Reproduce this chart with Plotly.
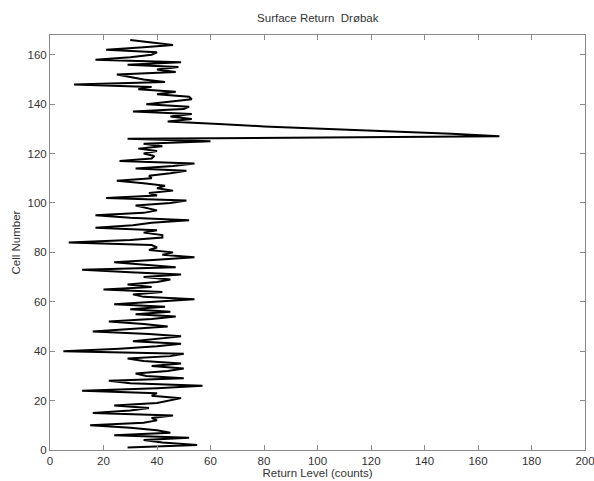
import plotly.graph_objects as go

cells = list(range(1, 167))
return_level = [
    29, 55, 42, 35, 52, 24, 45, 40, 30, 15,
    35, 40, 38, 46, 16, 30, 37, 24, 40, 45,
    49, 38, 40, 12, 40, 57, 30, 22, 50, 36,
    32, 44, 50, 38, 49, 35, 29, 45, 50, 5,
    26, 40, 49, 31, 40, 49, 37, 16, 30, 44,
    35, 22, 38, 47, 32, 45, 30, 43, 24, 40,
    54, 35, 31, 42, 20, 38, 29, 40, 45, 35,
    49, 30, 12, 47, 35, 24, 40, 54, 42, 46,
    37, 40, 38, 7, 30, 42, 42, 35, 40, 17,
    31, 38, 52, 30, 17, 35, 40, 36, 32, 45,
    51, 21, 40, 37, 46, 40, 43, 35, 25, 38,
    37, 45, 51, 32, 46, 54, 26, 38, 39, 35,
    40, 33, 42, 35, 60, 29, 168, 150, 125, 100,
    80, 63, 44, 53, 45, 53, 31, 50, 52, 36,
    45, 53, 52, 40, 47, 33, 38, 9, 43, 35,
    30, 25, 47, 40, 48, 29, 49, 17, 30, 38,
    40, 21, 35, 46, 38, 30,
]
x_ticks = [0, 20, 40, 60, 80, 100, 120, 140, 160, 180, 200]
y_ticks = [0, 20, 40, 60, 80, 100, 120, 140, 160]

fig = go.Figure(go.Scatter(
    x=return_level, y=cells, mode="lines",
    line=dict(color="black", width=2), showlegend=False,
))

font = dict(family="Liberation Sans, Arial", size=11.5, color="#333")
axis_common = dict(
    showgrid=False, zeroline=False, showline=True, mirror="ticks",
    linecolor="#8a8a8a", linewidth=1, ticks="inside", ticklen=5,
    tickcolor="#8a8a8a", tickfont=font, automargin=False,
    ticklabeloverflow="allow",
)
fig.update_layout(
    width=594, height=481,
    margin=dict(l=50, r=9, t=35, b=31),
    paper_bgcolor="white", plot_bgcolor="white",
    title=dict(text="Surface Return  Drøbak", x=0.535, xanchor="center", y=0.962, yanchor="middle",
               font=font),
    xaxis=dict(range=[0, 200], tickvals=x_ticks,
               title=dict(text="Return Level (counts)", standoff=2, font=font),
               **axis_common),
    yaxis=dict(range=[0, 168], tickvals=y_ticks,
               title=dict(text="Cell Number", standoff=4, font=font),
               **axis_common),
)
fig.write_html("out.html")
